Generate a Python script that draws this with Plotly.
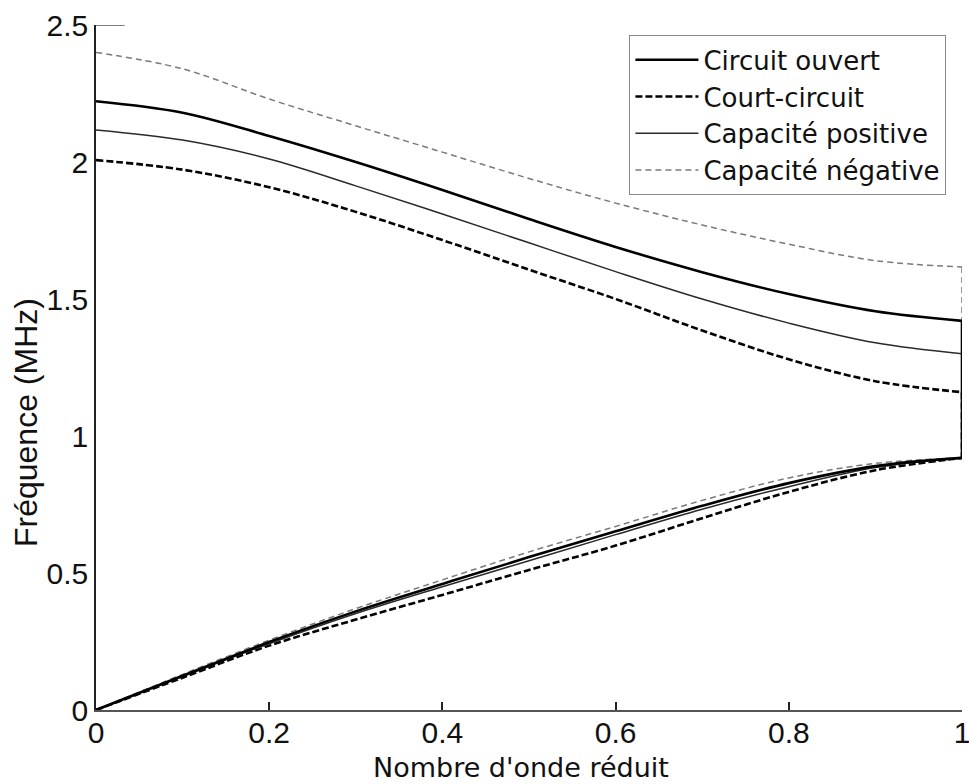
import plotly.graph_objects as go

k = [0.0, 0.1, 0.2, 0.3, 0.4, 0.5, 0.6, 0.7, 0.8, 0.9, 1.0]

names = ["Circuit ouvert", "Court-circuit", "Capacité positive", "Capacité négative"]

# upper (optical) branch
up_ouvert = [2.222, 2.180, 2.095, 2.000, 1.898, 1.792, 1.690, 1.598, 1.518, 1.455, 1.420]
up_court = [2.007, 1.972, 1.908, 1.818, 1.715, 1.607, 1.500, 1.385, 1.280, 1.200, 1.160]
up_pos = [2.117, 2.080, 2.011, 1.913, 1.810, 1.705, 1.600, 1.500, 1.412, 1.340, 1.300]
up_neg = [2.400, 2.340, 2.230, 2.132, 2.036, 1.940, 1.850, 1.770, 1.700, 1.640, 1.617]

# lower (acoustic) branch
lo_ouvert = [0.0, 0.125, 0.248, 0.360, 0.460, 0.558, 0.652, 0.745, 0.828, 0.890, 0.920]
lo_court = [0.0, 0.118, 0.235, 0.330, 0.420, 0.511, 0.600, 0.700, 0.796, 0.875, 0.920]
lo_pos = [0.0, 0.122, 0.242, 0.352, 0.450, 0.545, 0.640, 0.733, 0.815, 0.885, 0.920]
lo_neg = [0.0, 0.130, 0.255, 0.370, 0.475, 0.577, 0.670, 0.765, 0.847, 0.900, 0.920]

xticks = [0, 0.2, 0.4, 0.6, 0.8, 1]
xticklabels = ["0", "0.2", "0.4", "0.6", "0.8", "1"]
yticks = [0, 0.5, 1, 1.5, 2, 2.5]
yticklabels = ["0", "0.5", "1", "1.5", "2", "2.5"]

styles = {
    "Capacité négative": dict(color="#7a7a7a", width=1.5, dash="6px,4px"),
    "Capacité positive": dict(color="#2a2a2a", width=1.5, dash="solid"),
    "Court-circuit": dict(color="#000000", width=2.6, dash="7px,3px"),
    "Circuit ouvert": dict(color="#000000", width=2.6, dash="solid"),
}
data = {
    "Circuit ouvert": (up_ouvert, lo_ouvert),
    "Court-circuit": (up_court, lo_court),
    "Capacité positive": (up_pos, lo_pos),
    "Capacité négative": (up_neg, lo_neg),
}

fig = go.Figure()
draw_order = ["Capacité négative", "Court-circuit", "Capacité positive", "Circuit ouvert"]
for n in draw_order:
    up, lo = data[n]
    st = styles[n]
    line = dict(color=st["color"], width=st["width"], dash=st["dash"], shape="spline", smoothing=1.0)
    fig.add_trace(go.Scatter(x=k, y=up, mode="lines", line=line, name=n,
                             legendgroup=n, showlegend=True, cliponaxis=False,
                             legendrank=names.index(n) + 1))
    fig.add_trace(go.Scatter(x=k, y=lo, mode="lines", line=line, name=n,
                             legendgroup=n, showlegend=False, cliponaxis=False))
    fig.add_trace(go.Scatter(x=[k[-1], k[-1]], y=[up[-1], lo[-1]], mode="lines",
                             line=dict(color=st["color"], width=st["width"], dash=st["dash"]),
                             legendgroup=n, showlegend=False, cliponaxis=False))

tickfont = dict(family="Liberation Sans, Arial, sans-serif", size=30, color="#111111")
fig.update_layout(
    width=969, height=784,
    margin=dict(l=96, r=7, t=25, b=74),
    paper_bgcolor="white", plot_bgcolor="white",
    font=dict(family="Liberation Sans, Arial, sans-serif", color="#111111", size=22),
    xaxis=dict(range=[0, 1], tickvals=xticks, ticktext=xticklabels, automargin=False,
               showgrid=False, zeroline=False, showline=True, linecolor="#555555",
               linewidth=1.5, ticks="inside", ticklen=8, tickcolor="#222222", tickwidth=1.5,
               ticklabeloverflow="allow", ticklabelstandoff=-5, tickfont=tickfont),
    yaxis=dict(range=[0, 2.5], tickvals=yticks, ticktext=yticklabels, automargin=False,
               showgrid=False, zeroline=False, showline=True, linecolor="#222222",
               linewidth=1.5, ticks="", ticklabeloverflow="allow", tickfont=tickfont),
    legend=dict(x=0.982, y=0.985, xanchor="right", yanchor="top",
                bgcolor="white", bordercolor="#888888", borderwidth=1,
                font=dict(family="DejaVu Sans, sans-serif", size=26, color="#111111"),
                tracegroupgap=0, itemwidth=63),
    shapes=[dict(type="line", xref="x", yref="y", x0=0, x1=0.033, y0=2.5, y1=2.5,
                 line=dict(color="#555555", width=1.5))],
    annotations=[
        dict(text="Nombre d'onde réduit", xref="paper", yref="paper", x=0.491, y=-0.084,
             xanchor="center", yanchor="middle", showarrow=False,
             font=dict(family="DejaVu Sans, sans-serif", size=27, color="#111111")),
        dict(text="Fréquence (MHz)", xref="paper", yref="paper", x=-0.08, y=0.42,
             xanchor="center", yanchor="middle", showarrow=False, textangle=-90,
             font=dict(family="Liberation Sans, Arial, sans-serif", size=32, color="#111111")),
    ],
)

fig.write_html("out.html", config={"displayModeBar": False},
               post_script="document.body.style.margin='0px';document.body.style.overflow='hidden';")
